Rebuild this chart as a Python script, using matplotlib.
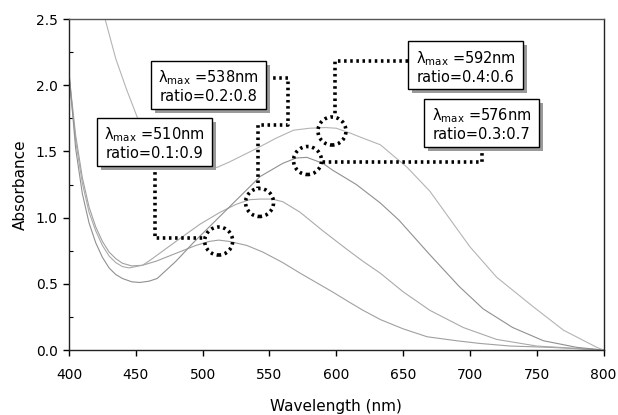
import matplotlib
matplotlib.use("Agg")
import matplotlib.pyplot as plt
from matplotlib.patches import Rectangle, Ellipse
import numpy as np

# ---- data -------------------------------------------------------------
wl_01 = [400, 405, 410, 415, 420, 425, 430, 435, 440, 447, 455, 465, 480, 495, 505, 512, 520, 533,
         545, 560, 573, 585, 597, 610, 620, 633, 650, 668, 690, 707, 730, 760, 800]
ab_01 = [2.08, 1.62, 1.30, 1.08, 0.93, 0.82, 0.74, 0.69, 0.655, 0.635, 0.64, 0.67, 0.73, 0.79, 0.82,
         0.83, 0.82, 0.79, 0.74, 0.66, 0.58, 0.51, 0.44, 0.36, 0.30, 0.23, 0.16, 0.10, 0.07, 0.05,
         0.03, 0.02, 0.0]

wl_02 = [400, 405, 410, 415, 420, 425, 430, 435, 440, 445, 455, 461, 480, 498, 513, 525, 535, 543,
         552, 560, 573, 590, 608, 620, 633, 650, 670, 695, 720, 750, 800]
ab_02 = [2.06, 1.58, 1.26, 1.04, 0.90, 0.79, 0.71, 0.66, 0.63, 0.62, 0.64, 0.68, 0.82, 0.95, 1.04,
         1.10, 1.135, 1.14, 1.14, 1.12, 1.04, 0.90, 0.76, 0.67, 0.58, 0.44, 0.30, 0.17, 0.08, 0.03, 0.0]

wl_03 = [400, 405, 410, 415, 420, 425, 430, 435, 440, 447, 453, 460, 466, 480, 493, 510, 525, 543,
         560, 570, 578, 590, 597, 615, 633, 647, 670, 692, 710, 732, 755, 780, 800]
ab_03 = [2.10, 1.52, 1.18, 0.96, 0.81, 0.70, 0.62, 0.57, 0.54, 0.515, 0.51, 0.52, 0.54, 0.67, 0.81,
         0.98, 1.13, 1.31, 1.41, 1.45, 1.455, 1.41, 1.36, 1.25, 1.11, 0.98, 0.72, 0.48, 0.31, 0.17,
         0.07, 0.02, 0.0]

wl_04 = [400, 410, 420, 427, 435, 443, 451, 460, 470, 480, 490, 505, 511, 520, 540, 555, 568, 580,
         592, 600, 610, 620, 633, 653, 670, 700, 720, 747, 770, 795, 800]
ab_04 = [3.6, 3.1, 2.75, 2.5, 2.2, 1.97, 1.76, 1.62, 1.52, 1.45, 1.40, 1.37, 1.38, 1.42, 1.52, 1.60,
         1.66, 1.675, 1.68, 1.675, 1.64, 1.60, 1.55, 1.38, 1.20, 0.78, 0.55, 0.33, 0.15, 0.02, 0.0]

# annotations: peak markers, box centres, labels, connector paths
peak_wl = [512, 542.6, 578.5, 596.8]
peak_ab = [0.823, 1.114, 1.431, 1.654]
box_wl = [464.0, 504.4, 708.7, 696.7]
box_ab = [1.571, 2.005, 1.718, 2.149]
lam_labels = ["510nm", "538nm", "576nm", "592nm"]
ratio_labels = ["0.1:0.9", "0.2:0.8", "0.3:0.7", "0.4:0.6"]
conn_wl = [[464.4, 464.4, 501.8],
           [548.2, 563.9, 563.9, 541.4, 541.4],
           [709.1, 709.1, 589.3],
           [653.7, 599.1, 599.1]]
conn_ab = [[1.39, 0.846, 0.846],
           [2.054, 2.054, 1.699, 1.699, 1.224],
           [1.533, 1.420, 1.420],
           [2.183, 2.183, 1.760]]

# ---- figure -----------------------------------------------------------
plt.rcParams['font.family'] = ['DejaVu Sans']
fig = plt.figure(figsize=(6.18, 4.15), dpi=100)
ax = fig.add_axes([69/618, 1-350/415, 534.5/618, 331/415])

xpx = 534.5/400.0   # pixels per nm
ypx = 331/2.5       # pixels per absorbance unit

for wl, ab, c in [(wl_01, ab_01, '#a0a0a0'), (wl_02, ab_02, '#aaaaaa'),
                  (wl_03, ab_03, '#909090'), (wl_04, ab_04, '#b4b4b4')]:
    ax.plot(wl, ab, color=c, lw=0.8, zorder=2)

dot = (0, (0.7, 1.0))
for cw, ca in zip(conn_wl, conn_ab):
    ax.plot(cw, ca, color='black', lw=2.6, linestyle=dot, zorder=3,
            solid_capstyle='butt', dash_capstyle='butt')

r = 14.0
for pw, pa in zip(peak_wl, peak_ab):
    e = Ellipse((pw, pa), 2*r/xpx, 2*r/ypx, fill=False, edgecolor='black',
                lw=2.6, linestyle=dot, zorder=4)
    ax.add_patch(e)

bw = 115/xpx
bh = 48/ypx
sx = 4/xpx
sy = 4/ypx
for cx, cy, lam, rat in zip(box_wl, box_ab, lam_labels, ratio_labels):
    ax.add_patch(Rectangle((cx - bw/2 + sx, cy - bh/2 - sy), bw, bh, facecolor='#9a9a9a',
                           edgecolor='none', zorder=5))
    ax.add_patch(Rectangle((cx - bw/2, cy - bh/2), bw, bh, facecolor='white',
                           edgecolor='black', lw=1.0, zorder=6))
    ax.text(cx, cy + 7/ypx, "λ$_{\\rm max}$ =" + lam, ha='center', va='center',
            fontsize=10.5, zorder=7)
    ax.text(cx, cy - 12/ypx, "ratio=" + rat, ha='center', va='center',
            fontsize=10.5, zorder=7)

ax.set_xlim(400, 800)
ax.set_ylim(0, 2.5)
ax.set_xticks(np.arange(400, 801, 50))
ax.set_yticks(np.arange(0, 2.51, 0.5))
ax.set_yticklabels([f"{v:.1f}" for v in np.arange(0, 2.51, 0.5)])
ax.set_yticks(np.arange(0.25, 2.5, 0.5), minor=True)
ax.tick_params(axis='both', which='major', direction='out', length=4, width=1,
               labelsize=10)
ax.tick_params(axis='x', which='major', pad=9)
ax.tick_params(axis='y', which='major', pad=4)
ax.tick_params(axis='y', which='minor', direction='in', length=3, width=0.8)
for s in ax.spines.values():
    s.set_linewidth(1.0)
    s.set_color('#222222')
ax.spines['top'].set_color('#555555')

ax.set_xlabel("Wavelength (nm)", fontsize=11, labelpad=12)
ax.set_ylabel("Absorbance", fontsize=11, labelpad=6)

fig.savefig("out.png", dpi=100)
